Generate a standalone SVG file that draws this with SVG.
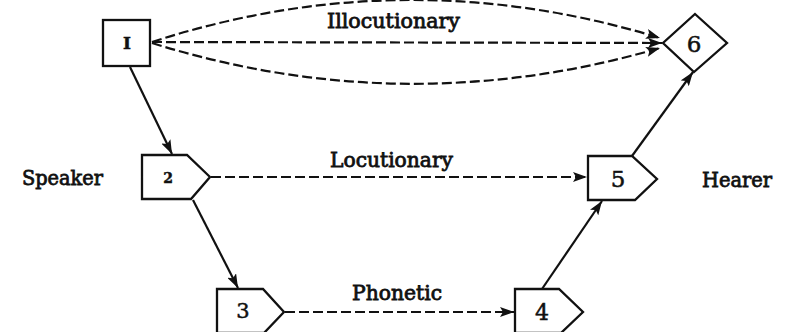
<svg xmlns="http://www.w3.org/2000/svg" width="791" height="332" viewBox="0 0 791 332">
<style>
.box{fill:#fff;stroke:#111;stroke-width:2.3;stroke-linejoin:miter}
.ln{fill:none;stroke:#111;stroke-width:2.2}
.dash{fill:none;stroke:#111;stroke-width:2.2;stroke-dasharray:10 4}
.t{font-family:"DejaVu Serif","Liberation Serif",serif;fill:#111;stroke:#111;stroke-width:0.8}
.num{font-family:"DejaVu Serif","Liberation Serif",serif;fill:#111;text-anchor:middle;stroke:#111;stroke-width:0.5}
</style>
<defs>
<marker id="ah" viewBox="0 0 14 10" refX="14" refY="5" markerWidth="14" markerHeight="10" markerUnits="userSpaceOnUse" orient="auto">
<path d="M0,0 L14,5 L0,10 L3,5 Z" fill="#111"/>
</marker>
</defs>
<rect width="791" height="332" fill="#fff"/>
<g id="connectors">
<line class="ln" x1="130" y1="67" x2="172" y2="154" marker-end="url(#ah)"/>
<line class="ln" x1="193" y1="200" x2="238" y2="288" marker-end="url(#ah)"/>
<line class="ln" x1="542" y1="289" x2="602" y2="201" marker-end="url(#ah)"/>
<line class="ln" x1="632" y1="156" x2="693" y2="72" marker-end="url(#ah)"/>
<line class="dash" x1="211" y1="177" x2="587" y2="177" marker-end="url(#ah)"/>
<line class="dash" x1="285" y1="312" x2="514" y2="312" marker-end="url(#ah)"/>
<line class="dash" x1="152" y1="42" x2="662" y2="43" marker-end="url(#ah)"/>
<path class="dash" d="M152,42 Q405,-40 660,38" marker-end="url(#ah)"/>
<path class="dash" d="M152,43 Q405,122 660,48" marker-end="url(#ah)"/>
</g>
<g id="node1">
<rect class="box" x="103" y="20" width="47" height="46"/>
<text class="num" x="127" y="49" font-size="17" font-weight="bold">I</text>
</g>
<g id="node2">
<path class="box" d="M142,155 L187,155 L210,177 L191,199 L142,199 Z"/>
<text class="num" x="168" y="183" font-size="14" font-weight="bold">2</text>
</g>
<g id="node3">
<path class="box" d="M217,289 L263,289 L284,312 L264,333 L217,333 Z"/>
<text class="num" x="243" y="318" font-size="21">3</text>
</g>
<g id="node4">
<path class="box" d="M515,289 L559,289 L583,312 L561,333 L515,333 Z"/>
<text class="num" x="542" y="320" font-size="22">4</text>
</g>
<g id="node5">
<path class="box" d="M588,156 L632,156 L657,179 L635,200 L588,200 Z"/>
<text class="num" x="618" y="187" font-size="23">5</text>
</g>
<g id="node6">
<path class="box" d="M695,14 L727,43 L694,72 L663,43 Z"/>
<text class="num" x="694" y="52" font-size="23">6</text>
</g>
<g id="labels">
<text class="t" x="327" y="28" font-size="20" textLength="133" lengthAdjust="spacingAndGlyphs">Illocutionary</text>
<text class="t" x="330" y="167" font-size="20" textLength="123" lengthAdjust="spacingAndGlyphs">Locutionary</text>
<text class="t" x="352" y="300" font-size="20" textLength="90" lengthAdjust="spacingAndGlyphs">Phonetic</text>
<text class="t" x="22" y="185" font-size="20" textLength="81" lengthAdjust="spacingAndGlyphs">Speaker</text>
<text class="t" x="702" y="187" font-size="20" textLength="70" lengthAdjust="spacingAndGlyphs">Hearer</text>
</g>
</svg>
